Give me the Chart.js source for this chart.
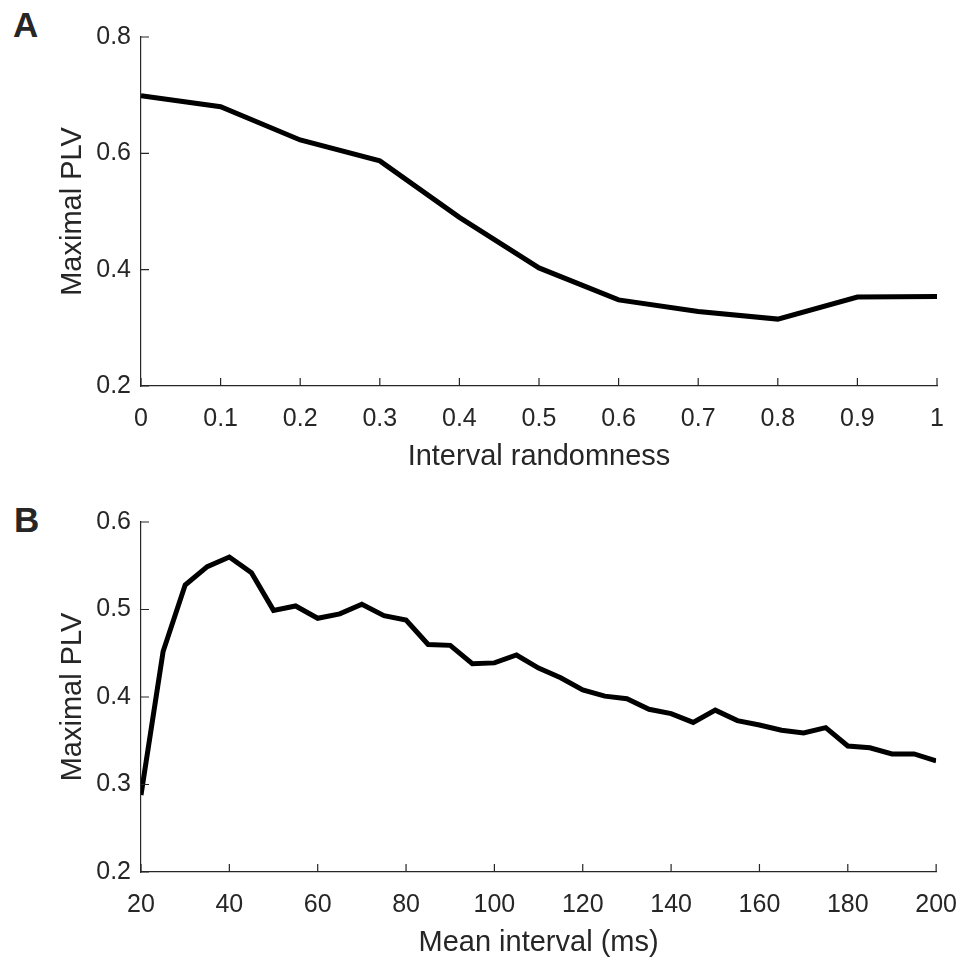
<!DOCTYPE html>
<html lang="en">
<head>
    <meta charset="UTF-8">
    <title>Maximal PLV</title>
    <script src="https://cdn.jsdelivr.net/npm/chart.js"></script>
    <style>
        body { margin: 0; background: #fff; overflow: hidden; }
        .panel { position: absolute; left: 0; }
        .letter { position: absolute; font: bold 35px/1 "Liberation Sans", Arial, sans-serif; color: #262626; }
    </style>
</head>
<body>
<div class="letter" style="left: 13px; top: 7px;">A</div>
<div class="letter" style="left: 14px; top: 502px;">B</div>
<canvas id="chartA" class="panel" style="top: 0;" width="975" height="480"></canvas>
<canvas id="chartB" class="panel" style="top: 480px;" width="975" height="477"></canvas>

<script>
    // panel A
    const randomness = [0, 0.1, 0.2, 0.3, 0.4, 0.5, 0.6, 0.7, 0.8, 0.9, 1];
    const plvRandomness = [0.699, 0.680, 0.623, 0.587, 0.490, 0.403, 0.348, 0.328, 0.315, 0.353, 0.354];

    // panel B
    const meanInterval = [20, 25, 30, 35, 40, 45, 50, 55, 60, 65, 70, 75, 80, 85, 90, 95, 100,
        105, 110, 115, 120, 125, 130, 135, 140, 145, 150, 155, 160, 165, 170, 175, 180, 185, 190, 195, 200];
    const plvInterval = [0.288, 0.452, 0.528, 0.549, 0.560, 0.542, 0.499, 0.504, 0.490, 0.495, 0.506,
        0.493, 0.488, 0.460, 0.459, 0.438, 0.439, 0.448, 0.433, 0.422, 0.408, 0.401, 0.398, 0.386,
        0.381, 0.371, 0.385, 0.373, 0.368, 0.362, 0.359, 0.365, 0.344, 0.342, 0.335, 0.335, 0.327];

    const axisColor = '#262626';
    const fontFamily = '"Liberation Sans", Arial, sans-serif';

    // matlab style ticks pointing into the plot
    const inwardTicks = {
        id: 'inwardTicks',
        afterDraw(chart) {
            const {ctx, chartArea, scales} = chart;
            ctx.save();
            ctx.strokeStyle = axisColor;
            ctx.lineWidth = 1.2;
            ctx.beginPath();
            scales.x.ticks.forEach(t => {
                const px = scales.x.getPixelForValue(t.value);
                ctx.moveTo(px, chartArea.bottom);
                ctx.lineTo(px, chartArea.bottom - 8);
            });
            scales.y.ticks.forEach(t => {
                const py = scales.y.getPixelForValue(t.value);
                ctx.moveTo(chartArea.left, py);
                ctx.lineTo(chartArea.left + 8, py);
            });
            ctx.stroke();
            ctx.restore();
        }
    };

    const fmt = v => String(Number(v.toFixed(2)));

    function makeChart(id, xs, ys, xOpts, yOpts, xTitle, pad, xHeight, xTitlePad) {
        const ctx = document.getElementById(id).getContext('2d');
        return new Chart(ctx, {
            type: 'line',
            data: {
                datasets: [{
                    data: xs.map((x, i) => ({x: x, y: ys[i]})),
                    borderColor: '#000',
                    borderWidth: 5,
                    pointRadius: 0,
                    tension: 0,
                    fill: false
                }]
            },
            options: {
                responsive: false,
                animation: false,
                devicePixelRatio: 1,
                layout: {padding: pad},
                plugins: {legend: {display: false}, tooltip: {enabled: false}},
                scales: {
                    x: {
                        type: 'linear',
                        min: xOpts.min, max: xOpts.max,
                        afterFit: s => { s.height = xHeight; },
                        grid: {display: true, drawOnChartArea: false, drawTicks: false},
                        border: {display: true, color: axisColor, width: 1.2},
                        ticks: {stepSize: xOpts.step, color: axisColor, padding: 18, maxRotation: 0,
                            callback: fmt, font: {family: fontFamily, size: 25}},
                        title: {display: true, text: xTitle, color: axisColor,
                            font: {family: fontFamily, size: 29, lineHeight: 1},
                            padding: {top: 0, bottom: xTitlePad}}
                    },
                    y: {
                        min: yOpts.min, max: yOpts.max,
                        afterFit: s => { s.width = 141; },
                        grid: {display: true, drawOnChartArea: false, drawTicks: false},
                        border: {display: true, color: axisColor, width: 1.2},
                        ticks: {stepSize: yOpts.step, color: axisColor, padding: 10,
                            callback: fmt, font: {family: fontFamily, size: 25}},
                        title: {display: true, text: 'Maximal PLV', color: axisColor,
                            font: {family: fontFamily, size: 29, lineHeight: 1},
                            padding: {top: 58, bottom: 0}}
                    }
                }
            },
            plugins: [inwardTicks]
        });
    }

    makeChart('chartA', randomness, plvRandomness,
        {min: 0, max: 1, step: 0.1}, {min: 0.2, max: 0.8, step: 0.2},
        'Interval randomness', {left: 0, top: 37, right: 38, bottom: 0}, 94, 9);

    makeChart('chartB', meanInterval, plvInterval,
        {min: 20, max: 200, step: 20}, {min: 0.2, max: 0.6, step: 0.1},
        'Mean interval (ms)', {left: 0, top: 42, right: 38, bottom: 0}, 85, 0);
</script>
</body>
</html>
